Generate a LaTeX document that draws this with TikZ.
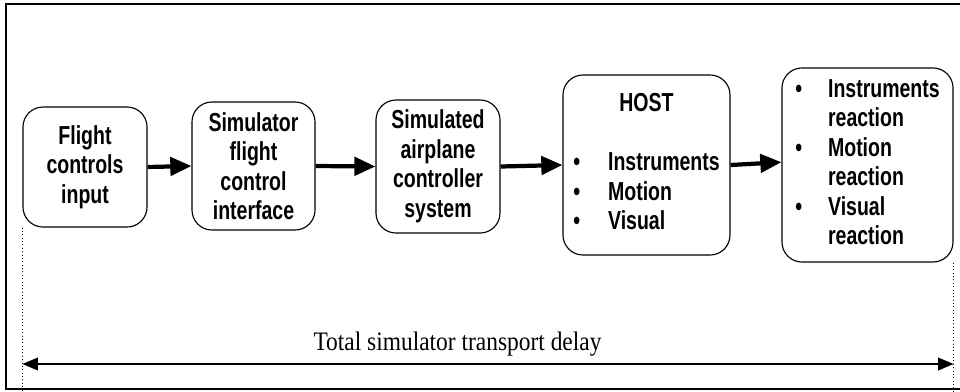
\documentclass[tikz,border=0pt]{standalone}
\usepackage{fontspec}
\setmainfont{Liberation Serif}
\newfontfamily\boxfont[FakeStretch=0.75]{Liberation Sans}
\newfontfamily\delayfont[FakeStretch=0.877]{Liberation Serif}
\usetikzlibrary{arrows.meta}

\begin{document}
\begin{tikzpicture}[x=0.025cm,y=-0.025cm,
   blk/.style={draw,line width=0.8pt,rounded corners=0.5cm,align=center,inner sep=0pt,
               font=\boxfont\bfseries\fontsize{18.5}{21}\selectfont},
   flow/.style={line width=3pt,-{Triangle[length=15pt,width=13pt]}},
   span/.style={line width=1.1pt,{Triangle[length=11pt,width=9pt]}-{Triangle[length=11pt,width=9pt]}}]
  \useasboundingbox (0,0) rectangle (960,391);
  \draw[line width=1.4pt] (960,4) -- (6,4) -- (6,389) -- (960,389);   % Outer frame

  \node[blk,minimum width=3.1cm,minimum height=3.0cm] (fci) at (85,167)
       {Flight\\controls\\input};                                    % Pilot input
  \node[blk,minimum width=3.075cm,minimum height=3.2cm] (sfci) at (253.5,166)
       {Simulator\\flight\\control\\interface};                      % Control interface
  \node[blk,minimum width=3.1cm,minimum height=3.325cm] (sacs) at (438,166.5)
       {Simulated\\airplane\\controller\\system};                    % Controller system
  \node[blk,minimum width=4.175cm,minimum height=4.5cm] (host) at (646.5,165)
       {\begin{tabular}{@{}l@{\hspace{0.7cm}}l@{}}
          \multicolumn{2}{c}{HOST}\\ & \\
          \textbullet & Instruments\\
          \textbullet & Motion\\
          \textbullet & Visual
        \end{tabular}};                                              % Host computer
  \node[blk,minimum width=4.275cm,minimum height=4.85cm] (rx) at (867.5,165)
       {\begin{tabular}{@{}l@{\hspace{0.65cm}}l@{}}
          \textbullet & Instruments\\ & reaction\\
          \textbullet & Motion\\ & reaction\\
          \textbullet & Visual\\ & reaction
        \end{tabular}};                                              % Reactions

  \draw[flow] (fci.east) -- (sfci.west);                             % Draw flow arrow
  \draw[flow] (sfci.east) -- (sacs.west);                            % Draw flow arrow
  \draw[flow] (sacs.east) -- (host.west);                            % Draw flow arrow
  \draw[flow] (host.east) -- ([yshift=2pt]rx.west);                  % Draw flow arrow

  \coordinate (base) at (0,364);
  \coordinate (bot) at (0,391);
  \draw[dotted] (fci.south west) -- (fci.south west |- bot);         % Left limit
  \draw[dotted] (rx.south east) -- (rx.south east |- bot);           % Right limit
  \draw[span] (fci.south west |- base) -- (rx.south east |- base);   % Total delay
  \node[font=\delayfont\fontsize{19}{22}\selectfont,anchor=base] (tot) at (457.5,350)
       {Total simulator transport delay};

\end{tikzpicture}
\end{document}
